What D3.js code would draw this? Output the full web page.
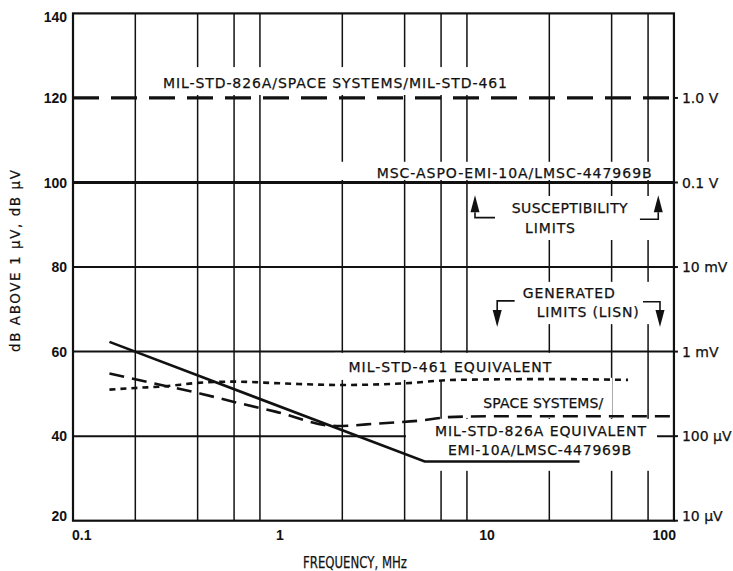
<!DOCTYPE html>
<html lang="en">
<head>
<meta charset="UTF-8">
<title>Limits</title>
<style>
  body { margin: 0; background: #fff; }
  svg { display: block; }
  text { font-family: "DejaVu Sans", sans-serif; fill: #111; }
  .num { font-family: "Liberation Sans", sans-serif; font-weight: bold; font-size: 14px; }
  .note { font-size: 14px; stroke: #111; stroke-width: 0.25; }
  .grid { stroke: #111; stroke-width: 1.5; fill: none; }
  .hgrid { stroke: #111; stroke-width: 2; fill: none; }
  .frame { stroke: #111; stroke-width: 2.2; fill: none; }
  .mask { fill: #fff; stroke: none; }
  .curve { fill: none; stroke: #111; stroke-width: 2.6; }
</style>
</head>
<body>
<svg></svg>
<script src="https://cdn.jsdelivr.net/npm/d3@7"></script>
<script>
// axis values
var xTickValues = [0.1, 1, 10, 100];
var xTickLabels = ["0.1", "1", "10", "100"];
var xGridValues = [0.2, 0.4, 0.6, 0.8, 2, 4, 6, 8, 20, 40, 60];
var frameEndFreq = 80;   // right edge of the drawn frame (labelled 100)
var yTickValues = [20, 40, 60, 80, 100, 120, 140];
var hGridValues = [40, 60, 80];
var rightValues = [20, 40, 60, 80, 100, 120];
var rightLabels = ["10 \u03bcV", "100 \u03bcV", "1 mV", "10 mV", "0.1 V", "1.0 V"];

// susceptibility limits (flat)
var milSusDb = 120;
var mscSusDb = 100;

// generated limit curves
var solidFreq = [0.15, 5, 28];
var solidDb = [62.3, 34, 34];
var longDashFreq = [0.15, 0.245, 0.41, 0.6, 0.95, 1.88, 3, 5, 6.5, 10, 80];
var longDashDb = [54.8, 52.5, 50.1, 48.1, 45.8, 42.4, 43, 43.8, 44.5, 44.7, 44.7];
var shortDashFreq = [0.15, 0.2, 0.28, 0.4, 0.6, 1, 2, 4, 7, 20, 48];
var shortDashDb = [51, 51.4, 51.8, 52.6, 52.9, 52.5, 52.1, 52.5, 53.3, 53.5, 53.3];

// annotation text: start frequency, baseline dB, width px
var notes = [
  {t: "MIL-STD-826A/SPACE SYSTEMS/MIL-STD-461", f: 0.272, db: 122.35, w: 344},
  {t: "MSC-ASPO-EMI-10A/LMSC-447969B", f: 2.93, db: 101.07, w: 275},
  {t: "SUSCEPTIBILITY", f: 13.16, db: 92.71, w: 116},
  {t: "LIMITS", f: 15.26, db: 87.98, w: 50},
  {t: "GENERATED", f: 14.88, db: 72.61, w: 92},
  {t: "LIMITS (LISN)", f: 17.39, db: 68.11, w: 102},
  {t: "MIL-STD-461 EQUIVALENT", f: 2.14, db: 55.25, w: 203},
  {t: "SPACE SYSTEMS/", f: 9.6, db: 46.59, w: 120},
  {t: "MIL-STD-826A EQUIVALENT", f: 5.61, db: 40.15, w: 211},
  {t: "EMI-10A/LMSC-447969B", f: 6.48, db: 35.54, w: 183}
];

// white areas where the grid is broken around the lettering
var masks = [
  {f0: 0.257, f1: 13.2, d0: 120.7, d1: 127.3},
  {f0: 1.91, f1: 65.5, d0: 100.6, d1: 104.9},
  {f0: 9.46, f1: 62.7, d0: 86.4, d1: 96.8},
  {f0: 12.2, f1: 64.8, d0: 66.5, d1: 76.5},
  {f0: 1.84, f1: 22.5, d0: 53.3, d1: 59.7},
  {f0: 6.63, f1: 40.2, d0: 44.3, d1: 53.8},
  {f0: 4.06, f1: 66.3, d0: 31.8, d1: 44.1}
];

// bracket arrows: arrow at f, tip at tipDb, bracket at bracketDb going to toF
var arrows = [
  {f: 8.75, tipDb: 97.0, bracketDb: 91.7, toF: 10.93, dir: "up"},
  {f: 67.2, tipDb: 97.0, bracketDb: 91.3, toF: 54.8, dir: "up"},
  {f: 11.2, tipDb: 65.8, bracketDb: 72.0, toF: 13.6, dir: "down"},
  {f: 68.5, tipDb: 65.8, bracketDb: 71.8, toF: 56.7, dir: "down"}
];

var svg = d3.select("svg").attr("width", 733).attr("height", 571);

var x = d3.scaleLog().domain([0.1, 100]).range([73, 694]);
var y = d3.scaleLinear().domain([20, 140]).range([520.7, 13.4]);
var xLeft = x(0.1), xRight = x(frameEndFreq);
var yTop = y(140), yBottom = y(20);

// grid
svg.selectAll(".vgrid").data(xGridValues).enter().append("line")
  .attr("class", "grid")
  .attr("x1", d => x(d)).attr("x2", d => x(d))
  .attr("y1", yTop).attr("y2", yBottom);

svg.selectAll(".hg").data(hGridValues).enter().append("line")
  .attr("class", "hgrid")
  .attr("x1", xLeft).attr("x2", xRight)
  .attr("y1", d => y(d)).attr("y2", d => y(d));

svg.selectAll(".mask").data(masks).enter().append("rect")
  .attr("class", "mask")
  .attr("x", d => x(d.f0)).attr("width", d => x(d.f1) - x(d.f0))
  .attr("y", d => y(d.d1)).attr("height", d => y(d.d0) - y(d.d1));

// frame
svg.append("rect").attr("class", "frame")
  .attr("x", xLeft).attr("y", yTop)
  .attr("width", xRight - xLeft).attr("height", yBottom - yTop);

// small ticks on the right edge
svg.selectAll(".rtick").data(rightValues).enter().append("line")
  .attr("stroke", "#111").attr("stroke-width", 2)
  .attr("x1", xRight).attr("x2", xRight + 4)
  .attr("y1", d => y(d)).attr("y2", d => y(d));

// flat susceptibility limits
svg.append("line")
  .attr("x1", xLeft).attr("x2", xRight)
  .attr("y1", y(milSusDb)).attr("y2", y(milSusDb))
  .attr("stroke", "#111").attr("stroke-width", 3.2)
  .attr("stroke-dasharray", "26,12");
svg.append("line")
  .attr("x1", xLeft).attr("x2", xRight)
  .attr("y1", y(mscSusDb)).attr("y2", y(mscSusDb))
  .attr("stroke", "#111").attr("stroke-width", 3.2);

// generated limit curves
function pts(fs, dbs) { return fs.map((f, i) => [x(f), y(dbs[i])]); }
var straight = d3.line();
var smooth = d3.line().curve(d3.curveMonotoneX);

svg.append("path").attr("class", "curve")
  .attr("d", straight(pts(solidFreq, solidDb)));
svg.append("path").attr("class", "curve")
  .attr("stroke-dasharray", "15,8")
  .attr("d", smooth(pts(longDashFreq, longDashDb)));
svg.append("path").attr("class", "curve")
  .attr("stroke-width", 2.4)
  .attr("stroke-dasharray", "6,5")
  .attr("d", smooth(pts(shortDashFreq, shortDashDb)));

// annotations
svg.selectAll(".note").data(notes).enter().append("text")
  .attr("class", "note")
  .attr("x", d => x(d.f)).attr("y", d => y(d.db))
  .attr("textLength", d => d.w).attr("lengthAdjust", "spacing")
  .text(d => d.t);

arrows.forEach(function (a) {
  var ax = x(a.f), tip = y(a.tipDb), by = y(a.bracketDb);
  var s = a.dir === "up" ? 1 : -1;
  var base = tip + s * 17;
  svg.append("path")
    .attr("d", "M" + ax + "," + base + "L" + ax + "," + by + "L" + x(a.toF) + "," + by)
    .attr("fill", "none").attr("stroke", "#111").attr("stroke-width", 1.6);
  svg.append("path")
    .attr("d", "M" + ax + "," + tip + "L" + (ax - 4.5) + "," + base + "L" + (ax + 4.5) + "," + base + "Z")
    .attr("fill", "#111");
});

// left tick labels
svg.selectAll(".ylab").data(yTickValues).enter().append("text")
  .attr("class", "num")
  .attr("text-anchor", "end")
  .attr("x", xLeft - 6)
  .attr("y", d => Math.min(Math.max(y(d), yTop + 4), yBottom - 5))
  .attr("dy", "0.36em")
  .text(d => d);

// right labels
svg.selectAll(".rlab").data(rightValues).enter().append("text")
  .attr("font-size", 14)
  .attr("stroke", "#111").attr("stroke-width", 0.25)
  .attr("x", xRight + 8)
  .attr("y", (d) => Math.min(y(d), yBottom - 5))
  .attr("dy", "0.36em")
  .text((d, i) => rightLabels[i]);

// bottom tick labels
svg.selectAll(".xlab").data(xTickValues).enter().append("text")
  .attr("class", "num")
  .attr("font-weight", "normal")
  .attr("text-anchor", (d, i) => i === 0 ? "start" : (i === xTickValues.length - 1 ? "end" : "middle"))
  .attr("x", (d, i) => i === 0 ? xLeft - 1 : Math.min(x(d), xRight + 2))
  .attr("y", yBottom + 19.5)
  .text((d, i) => xTickLabels[i]);

// axis titles
svg.append("text")
  .attr("font-size", 15.5)
  .attr("stroke", "#111").attr("stroke-width", 0.25)
  .attr("text-anchor", "middle")
  .attr("x", 355).attr("y", 568)
  .attr("textLength", 104).attr("lengthAdjust", "spacingAndGlyphs")
  .text("FREQUENCY, MHz");

svg.append("text")
  .attr("font-size", 13.5)
  .attr("stroke", "#111").attr("stroke-width", 0.2)
  .attr("text-anchor", "middle")
  .attr("transform", "translate(20,261) rotate(-90)")
  .attr("textLength", 182).attr("lengthAdjust", "spacing")
  .text("dB ABOVE 1 \u03bcV, dB \u03bcV");
</script>
</body>
</html>
